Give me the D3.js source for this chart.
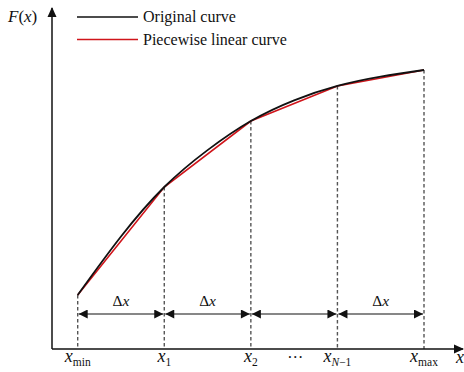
<!DOCTYPE html>
<html>
<head>
<meta charset="utf-8">
<script src="https://cdn.jsdelivr.net/npm/d3@7"></script>
<style>
  html, body { margin: 0; padding: 0; background: #fff; }
  svg { display: block; }
</style>
</head>
<body>
<svg id="chart" width="464" height="372" font-family="'Liberation Serif', 'Times New Roman', Times, serif"></svg>
<script>
// Knot positions along x (uniform step Δx) and their labels
const knots = [0, 1, 2, 3, 4];
const knotLabels = [
  { base: "x", sub: "min" },
  { base: "x", sub: "1" },
  { base: "x", sub: "2" },
  { base: "x", sub: "N\u22121" },
  { base: "x", sub: "max" }
];
// F(x) at the knots
const knotValues = [0.18, 0.54, 0.76, 0.877, 0.93];
// Original curve sampled at the knots and the interval midpoints
const curveX = [0, 0.5, 1, 1.5, 2, 2.5, 3, 3.5, 4];
const curveF = [0.18, 0.375, 0.54, 0.663, 0.76, 0.829, 0.877, 0.908, 0.93];
// Intervals that carry a Δx label (the one before x_{N-1} is elided by "…")
const intervalLabels = ["\u0394x", "\u0394x", "", "\u0394x"];
const legendItems = [
  { name: "Original curve", color: "#111" },
  { name: "Piecewise linear curve", color: "#d0151b" }
];

const svg = d3.select("#chart");
const originX = 52, originY = 349;

const x = d3.scaleLinear().domain([0, 4]).range([77.7, 424]);
const y = d3.scaleLinear().domain([0, 1]).range([originY, 49]);

const pts = knots.map((k, i) => [k, knotValues[i]]);
const curvePts = curveX.map((k, i) => [k, curveF[i]]);

// arrow markers
const defs = svg.append("defs");
defs.append("marker").attr("id", "axisHead")
  .attr("viewBox", "0 0 10 10").attr("refX", 9).attr("refY", 5)
  .attr("markerWidth", 10).attr("markerHeight", 10)
  .attr("markerUnits", "userSpaceOnUse").attr("orient", "auto")
  .append("path").attr("d", "M0,0.5 L10,5 L0,9.5 Z").attr("fill", "#111");
defs.append("marker").attr("id", "dimHead")
  .attr("viewBox", "0 0 10 10").attr("refX", 10).attr("refY", 5)
  .attr("markerWidth", 11).attr("markerHeight", 9)
  .attr("markerUnits", "userSpaceOnUse").attr("orient", "auto-start-reverse")
  .append("path").attr("d", "M0,0 L10,5 L0,10 Z").attr("fill", "#111");

// dashed guides from each knot to the x axis
svg.append("g").selectAll("line").data(pts).join("line")
  .attr("x1", d => x(d[0])).attr("x2", d => x(d[0]))
  .attr("y1", d => y(d[1])).attr("y2", originY)
  .attr("stroke", "#555").attr("stroke-width", 1.4)
  .attr("stroke-dasharray", "3.5,2.5");

// piecewise linear approximation
svg.append("path").datum(pts)
  .attr("d", d3.line().x(d => x(d[0])).y(d => y(d[1])))
  .attr("fill", "none").attr("stroke", "#d0151b").attr("stroke-width", 1.6);

// original smooth curve
svg.append("path").datum(curvePts)
  .attr("d", d3.line().x(d => x(d[0])).y(d => y(d[1])).curve(d3.curveNatural))
  .attr("fill", "none").attr("stroke", "#111").attr("stroke-width", 1.8);

// axes
svg.append("line").attr("x1", originX).attr("y1", originY)
  .attr("x2", originX).attr("y2", 8)
  .attr("stroke", "#111").attr("stroke-width", 1.5).attr("marker-end", "url(#axisHead)");
svg.append("line").attr("x1", originX).attr("y1", originY)
  .attr("x2", 463).attr("y2", originY)
  .attr("stroke", "#111").attr("stroke-width", 1.5).attr("marker-end", "url(#axisHead)");

// Δx dimension arrows
const dimY = 314;
const intervals = d3.pairs(knots);
const dim = svg.append("g");
dim.selectAll("line").data(intervals).join("line")
  .attr("x1", d => x(d[0]) + 1).attr("x2", d => x(d[1]) - 1)
  .attr("y1", dimY).attr("y2", dimY)
  .attr("stroke", "#111").attr("stroke-width", 1.2)
  .attr("marker-start", "url(#dimHead)").attr("marker-end", "url(#dimHead)");
dim.selectAll("text").data(intervals).join("text")
  .attr("x", d => (x(d[0]) + x(d[1])) / 2).attr("y", 306)
  .attr("text-anchor", "middle").attr("font-size", 15.5).attr("fill", "#111")
  .each(function(d, i) {
    const s = intervalLabels[i];
    if (!s) return;
    const t = d3.select(this);
    t.append("tspan").text(s[0]);
    t.append("tspan").attr("font-style", "italic").text(s.slice(1));
  });

// knot tick labels
const tl = svg.append("g");
tl.selectAll("text").data(knotLabels).join("text")
  .attr("x", (d, i) => x(knots[i])).attr("y", 362)
  .attr("text-anchor", "middle").attr("font-size", 18).attr("fill", "#111")
  .each(function(d) {
    const t = d3.select(this);
    t.append("tspan").attr("font-style", "italic").text(d.base);
    const sub = t.append("tspan").attr("font-size", 11.5).attr("dy", 4);
    if (d.sub.startsWith("N")) {
      sub.append("tspan").attr("font-style", "italic").text("N");
      sub.append("tspan").text(d.sub.slice(1));
    } else {
      sub.text(d.sub);
    }
  });
svg.append("text").attr("x", (x(2) + x(3)) / 2 + 1).attr("y", 358)
  .attr("text-anchor", "middle").attr("font-size", 16).attr("fill", "#111").text("\u2026");

// axis titles
svg.append("text").attr("x", 456).attr("y", 363).attr("font-size", 18)
  .attr("font-style", "italic").attr("fill", "#111").text("x");
const fy = svg.append("text").attr("x", 8).attr("y", 22).attr("font-size", 17).attr("fill", "#111");
fy.append("tspan").attr("font-style", "italic").text("F");
fy.append("tspan").text("(");
fy.append("tspan").attr("font-style", "italic").text("x");
fy.append("tspan").text(")");

// legend
const lg = svg.append("g").selectAll("g").data(legendItems).join("g")
  .attr("transform", (d, i) => `translate(77,${17 + i * 22.5})`);
lg.append("line").attr("x1", 0).attr("x2", 61)
  .attr("stroke", d => d.color).attr("stroke-width", 1.6);
lg.append("text").attr("x", 66).attr("y", 5).attr("font-size", 16)
  .attr("fill", "#111").text(d => d.name);
</script>
</body>
</html>
